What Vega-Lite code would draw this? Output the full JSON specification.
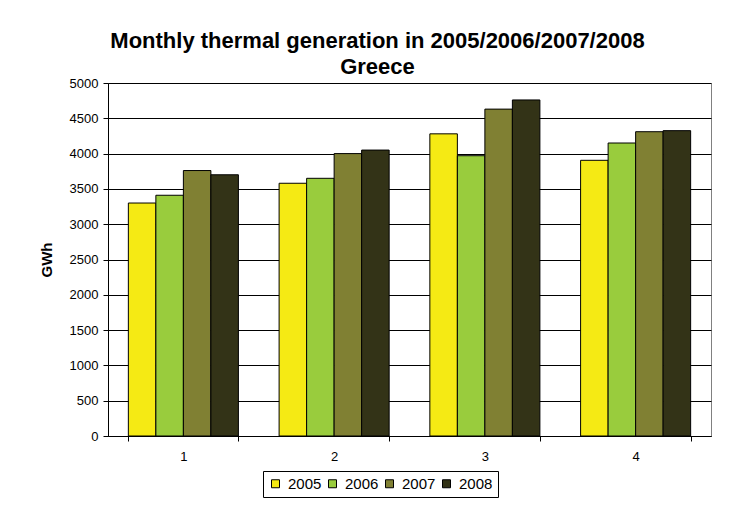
{
  "$schema": "https://vega.github.io/schema/vega-lite/v6.json",
  "autosize": {"type": "none"},
  "padding": {"left": 108, "top": 83, "right": 23, "bottom": 71},
  "width": 603,
  "height": 353,
  "background": "white",
  "title": {
    "text": ["Monthly thermal generation in 2005/2006/2007/2008", "Greece"],
    "font": "Liberation Sans",
    "fontSize": 22,
    "fontWeight": "bold",
    "color": "black",
    "lineHeight": 26,
    "anchor": "middle",
    "frame": "group",
    "dx": -32,
    "offset": -2
  },
  "data": {
    "values": [
      {"period": "1", "year": "2005", "gwh": 3300},
      {"period": "1", "year": "2006", "gwh": 3410},
      {"period": "1", "year": "2007", "gwh": 3760},
      {"period": "1", "year": "2008", "gwh": 3700},
      {"period": "2", "year": "2005", "gwh": 3580},
      {"period": "2", "year": "2006", "gwh": 3650},
      {"period": "2", "year": "2007", "gwh": 4000},
      {"period": "2", "year": "2008", "gwh": 4050},
      {"period": "3", "year": "2005", "gwh": 4280},
      {"period": "3", "year": "2006", "gwh": 3970},
      {"period": "3", "year": "2007", "gwh": 4630},
      {"period": "3", "year": "2008", "gwh": 4760},
      {"period": "4", "year": "2005", "gwh": 3905},
      {"period": "4", "year": "2006", "gwh": 4150},
      {"period": "4", "year": "2007", "gwh": 4310},
      {"period": "4", "year": "2008", "gwh": 4325}
    ]
  },
  "mark": {"type": "bar", "stroke": "black", "strokeWidth": 1},
  "encoding": {
    "x": {
      "field": "period",
      "type": "nominal",
      "scale": {"paddingInner": 0.27, "paddingOuter": 0.135},
      "axis": {
        "title": null,
        "labelAngle": 0,
        "labelFont": "Liberation Sans",
        "labelFontSize": 13,
        "labelColor": "black",
        "labelPadding": 9,
        "tickBand": "extent",
        "tickSize": 5,
        "tickColor": "black",
        "domainColor": "black",
        "grid": false
      }
    },
    "xOffset": {"field": "year", "type": "nominal", "scale": {"paddingInner": 0, "paddingOuter": 0}},
    "y": {
      "field": "gwh",
      "type": "quantitative",
      "scale": {"domain": [0, 5000], "nice": false},
      "axis": {
        "title": "GWh",
        "titleFont": "Liberation Sans",
        "titleFontSize": 15,
        "titleFontWeight": "bold",
        "titleColor": "black",
        "titlePadding": 15,
        "format": "d",
        "values": [0, 500, 1000, 1500, 2000, 2500, 3000, 3500, 4000, 4500, 5000],
        "labelFont": "Liberation Sans",
        "labelFontSize": 13,
        "labelColor": "black",
        "labelPadding": 5,
        "tickSize": 5,
        "tickColor": "black",
        "domainColor": "black",
        "gridColor": "black",
        "gridOpacity": 1,
        "gridWidth": 1
      }
    },
    "color": {
      "field": "year",
      "type": "nominal",
      "scale": {
        "domain": ["2005", "2006", "2007", "2008"],
        "range": ["#F5EA14", "#99CC3D", "#808033", "#333317"]
      },
      "legend": {
        "title": null,
        "orient": "none",
        "legendX": 155,
        "legendY": 388,
        "direction": "horizontal",
        "columns": 4,
        "strokeColor": "black",
        "fillColor": "white",
        "padding": 5,
        "symbolType": "square",
        "symbolSize": 64,
        "symbolStrokeColor": "black",
        "symbolStrokeWidth": 1,
        "symbolOpacity": 1,
        "labelFont": "Liberation Sans",
        "labelFontSize": 15,
        "labelColor": "black",
        "labelOffset": 5,
        "columnPadding": 3
      }
    }
  },
  "config": {
    "view": {"stroke": "#808080", "strokeWidth": 1}
  }
}
